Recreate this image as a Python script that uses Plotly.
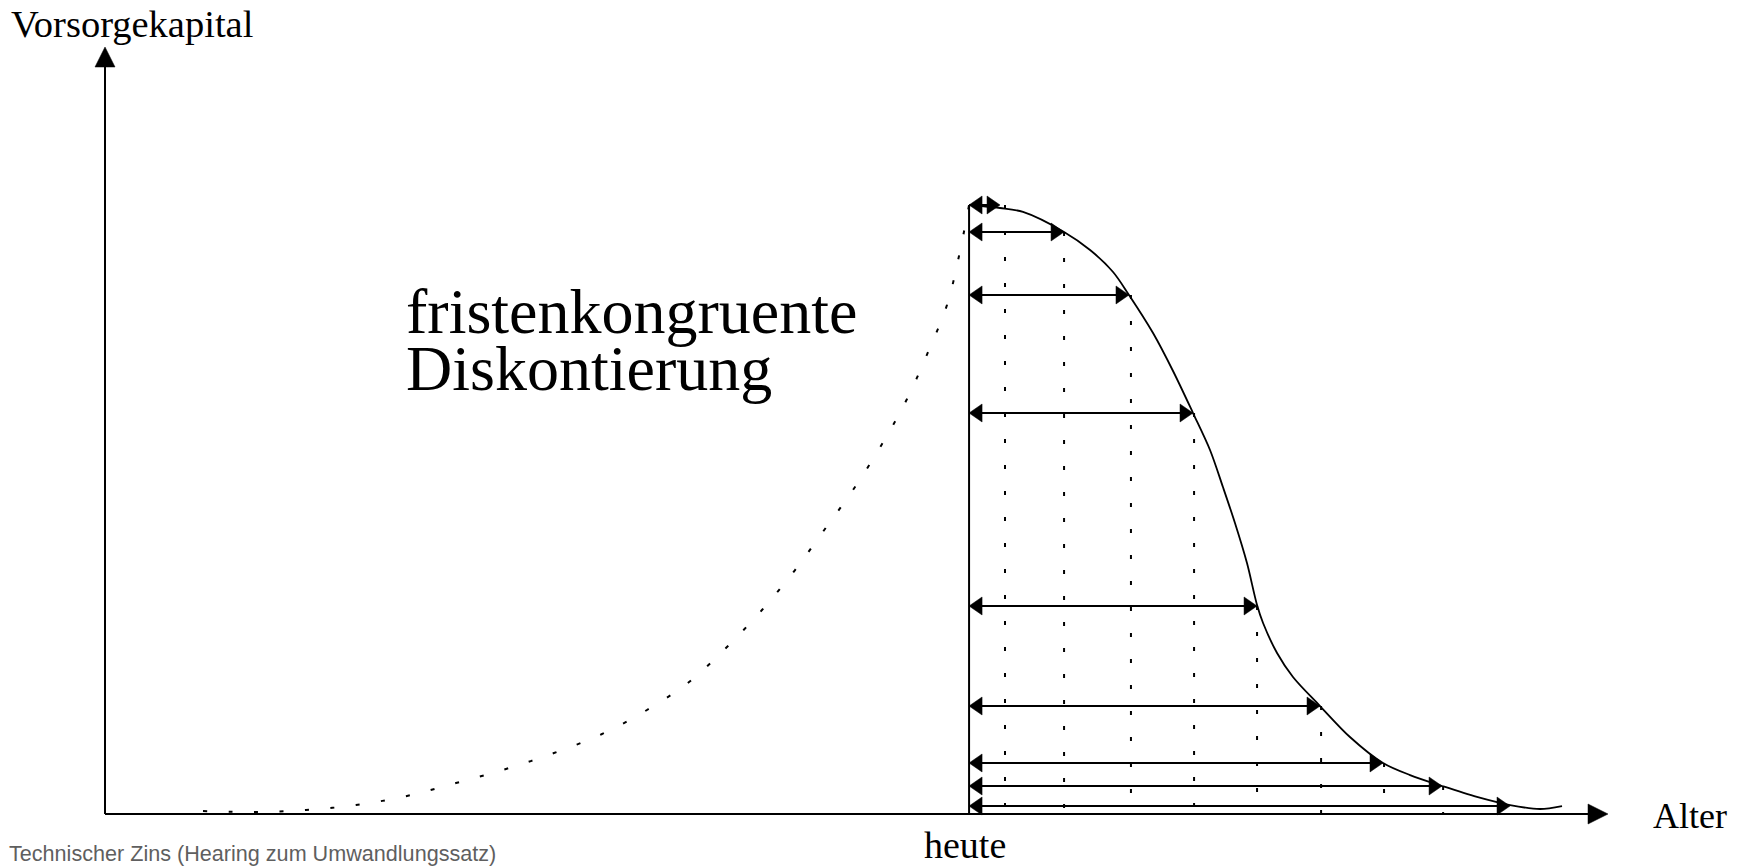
import plotly.graph_objects as go

# ---------------- data (schematic units: age axis 0..100, capital axis 0..100) ----------------
heute_age = 57.49

# accumulation phase (dotted)
build_age = [6.52, 9.91, 13.37, 16.70, 20.09, 23.35, 26.68, 29.87, 33.07, 36.06, 38.86,
             41.38, 43.71, 45.91, 47.90, 49.90, 51.70, 53.36, 54.76, 56.02, 56.82, 57.49]
build_cap = [0.39, 0.26, 0.52, 1.17, 2.35, 4.04, 5.87, 7.95, 10.43, 13.56, 17.21,
             21.77, 26.60, 31.81, 37.16, 42.63, 48.24, 54.11, 60.23, 66.36, 72.75, 79.40]

# run-off phase (solid)
run_age = [57.49, 59.55, 61.08, 63.81, 65.54, 67.07, 68.13, 69.73, 71.06, 72.39, 73.52,
           74.38, 75.18, 75.98, 76.65, 77.05, 77.98, 79.04, 80.84, 82.83, 85.03, 86.83,
           88.96, 91.28, 93.48, 95.48, 96.94]
run_cap = [79.40, 79.01, 78.49, 75.88, 73.53, 70.67, 67.67, 62.71, 57.76, 52.28, 47.46,
           42.63, 37.94, 32.72, 27.25, 24.90, 20.99, 17.86, 14.08, 10.04, 6.65, 5.08,
           3.65, 2.22, 1.17, 0.65, 1.04]

# discounting arrows (tip on the curve)
arrow_age = [59.55, 63.81, 68.13, 72.39, 76.65, 80.84, 85.03, 88.96, 93.48]
arrow_cap = [79.40, 75.88, 67.67, 52.28, 27.12, 14.08, 6.65, 3.65, 1.04]

# dotted drop lines
drop_age = [59.88, 63.81, 68.26, 72.46, 76.65, 80.91, 85.10, 89.03]
drop_cap = [79.40, 75.88, 67.67, 52.28, 27.12, 14.08, 6.65, 3.65]

axis_max = 100

label_y = "Vorsorgekapital"
label_x = "Alter"
label_now = "heute"
label_main = ["fristenkongruente", "Diskontierung"]
footer = "Technischer Zins (Hearing zum Umwandlungssatz)"

# ---------------- layout geometry ----------------
W, H = 1741, 866
OX, OY = 105, 814          # pixel of axis origin
XE, YE = 1608, 47          # pixel of axis arrow tips
sx = (XE - OX) / axis_max  # px per unit
sy = (OY - YE) / axis_max

def px_x(p):  # paper coordinate from pixel
    return p / W

def px_y(p):
    return 1 - p / H

BLACK = "#000000"
SERIF = "Liberation Serif, Times New Roman, serif"

fig = go.Figure()

# axes lines
ax_x = [0, 0, None, 0, axis_max - 10 / sx]
ax_y = [axis_max - 10 / sy, 0, None, 0, 0]
fig.add_trace(go.Scatter(x=ax_x, y=ax_y, mode="lines",
                         line=dict(color=BLACK, width=2), hoverinfo="skip"))

# accumulation curve (dotted)
fig.add_trace(go.Scatter(x=build_age, y=build_cap, mode="lines",
                         line=dict(color=BLACK, width=2, dash="4px,21.5px", shape="spline"),
                         hoverinfo="skip"))

# run-off curve
fig.add_trace(go.Scatter(x=run_age, y=run_cap, mode="lines",
                         line=dict(color=BLACK, width=1.8, shape="spline", smoothing=0.9),
                         hoverinfo="skip"))

# heute vertical line
fig.add_trace(go.Scatter(x=[heute_age, heute_age], y=[0, run_cap[0]], mode="lines",
                         line=dict(color=BLACK, width=2), hoverinfo="skip"))

# dotted drop lines
dx, dy = [], []
for a, c in zip(drop_age, drop_cap):
    dx += [a, a, None]
    dy += [c, 0, None]
fig.add_trace(go.Scatter(x=dx, y=dy, mode="lines",
                         line=dict(color=BLACK, width=2, dash="4px,22px"),
                         hoverinfo="skip"))

# arrow shafts
sxs, sys_ = [], []
for a, c in zip(arrow_age, arrow_cap):
    sxs += [heute_age + 6 / sx, a - 6 / sx, None]
    sys_ += [c, c, None]
fig.add_trace(go.Scatter(x=sxs, y=sys_, mode="lines",
                         line=dict(color=BLACK, width=2), hoverinfo="skip"))

# arrow heads (filled triangles)
L, HW = 13, 9        # small heads: length, half width (px)
AL, AHW = 20, 10     # axis heads
hx, hy = [], []
for a, c in zip(arrow_age, arrow_cap):
    # right head
    hx += [a, a - L / sx, a - L / sx, a, None]
    hy += [c, c + HW / sy, c - HW / sy, c, None]
    # left head
    hx += [heute_age, heute_age + L / sx, heute_age + L / sx, heute_age, None]
    hy += [c, c + HW / sy, c - HW / sy, c, None]
# axis heads
hx += [axis_max, axis_max - AL / sx, axis_max - AL / sx, axis_max, None]
hy += [0, AHW / sy, -AHW / sy, 0, None]
hx += [0, -AHW / sx, AHW / sx, 0, None]
hy += [axis_max, axis_max - AL / sy, axis_max - AL / sy, axis_max, None]
fig.add_trace(go.Scatter(x=hx, y=hy, mode="lines", fill="toself", fillcolor=BLACK,
                         line=dict(color=BLACK, width=0.5), hoverinfo="skip"))

# ---------------- text ----------------
def ann(text, x, y, size, xanchor="left", family=SERIF, color=BLACK):
    fig.add_annotation(text=text, x=px_x(x), y=px_y(y), xref="paper", yref="paper",
                       xanchor=xanchor, yanchor="middle", showarrow=False,
                       borderpad=0, borderwidth=0,
                       font=dict(family=family, size=size, color=color))

ann(label_y, 11, 24, 38.5)
ann(label_x, 1653, 816, 36)
ann(label_now, 965, 845, 38, xanchor="center")
ann(label_main[0], 406, 311, 64)
ann(label_main[1], 406, 368, 64)
ann(footer, 9, 853.5, 21.6, family="Liberation Sans, Arial, sans-serif", color="#5f5f5f")

fig.update_layout(
    width=W, height=H,
    margin=dict(l=0, r=0, t=0, b=0),
    paper_bgcolor="white", plot_bgcolor="white",
    showlegend=False, hovermode=False,
    xaxis=dict(range=[-OX / sx, (W - OX) / sx], visible=False, fixedrange=True),
    yaxis=dict(range=[-(H - OY) / sy, OY / sy], visible=False, fixedrange=True),
)

fig.write_html("out.html", config={"displayModeBar": False},
               post_script="document.body.style.margin='0';document.body.style.overflow='hidden';")
